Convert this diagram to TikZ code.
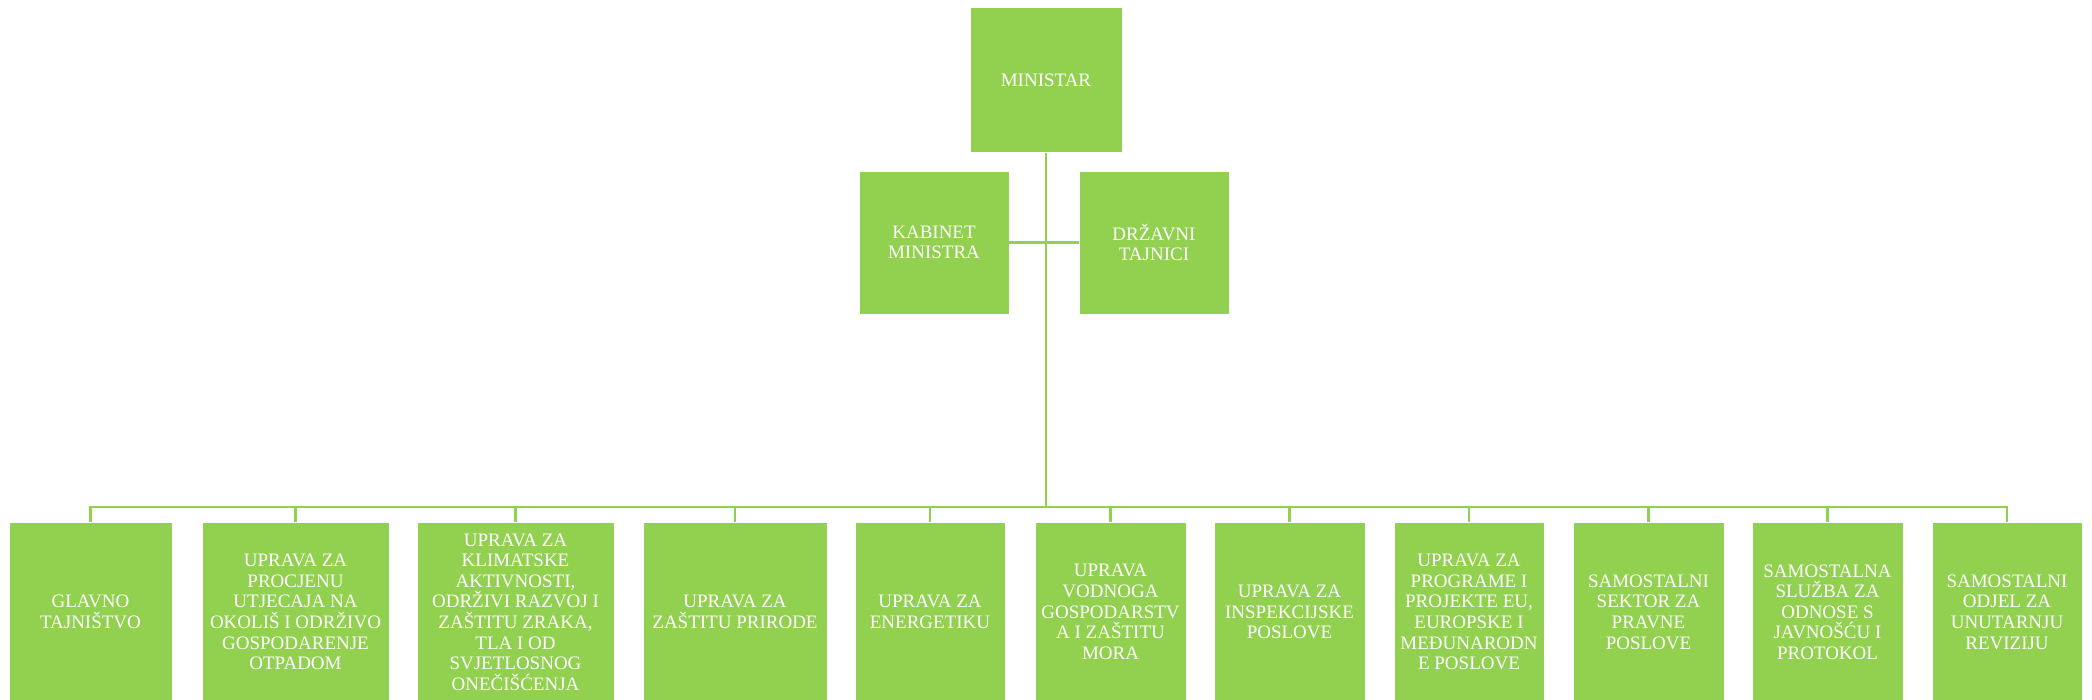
\documentclass[tikz,border=0pt]{standalone}
\usepackage{fontspec}
\setmainfont{Liberation Serif}
\usepackage{tikz}
\definecolor{orggreen}{HTML}{92D050}

\begin{document}
\begin{tikzpicture}[x=1pt, y=-1pt,
    box/.style={rectangle, fill=orggreen, draw=white, line width=0.8pt, inner sep=0pt,
      text=white, align=center, font=\fontsize{19}{20.6}\selectfont},
    link/.style={draw=orggreen, line width=2.6pt}]

    \useasboundingbox (0,0) rectangle (2092,699);

    % top level
    \node[box, minimum width=152pt, minimum height=145pt] (M) at (1046,80) {MINISTAR};
    \node[box, minimum width=150pt, minimum height=143pt] (K) at (934,242.5) {KABINET\\MINISTRA};
    \node[box, minimum width=150pt, minimum height=143pt] (D) at (1154,242.5) {DRŽAVNI\\TAJNICI};
    \coordinate (bus) at (1046,507);

    % bottom row
    \node[box, minimum width=163pt, minimum height=180pt] (U1) at (90.5,612) {GLAVNO\\TAJNIŠTVO};
    \node[box, minimum width=187pt, minimum height=180pt] (U2) at (295.5,612) {UPRAVA ZA\\PROCJENU\\UTJECAJA NA\\OKOLIŠ I ODRŽIVO\\GOSPODARENJE\\OTPADOM};
    \node[box, minimum width=197pt, minimum height=180pt] (U3) at (515.5,612) {UPRAVA ZA\\KLIMATSKE\\AKTIVNOSTI,\\ODRŽIVI RAZVOJ I\\ZAŠTITU ZRAKA,\\TLA I OD\\SVJETLOSNOG\\ONEČIŠĆENJA};
    \node[box, minimum width=184pt, minimum height=180pt] (U4) at (735,612) {UPRAVA ZA\\ZAŠTITU PRIRODE};
    \node[box, minimum width=150pt, minimum height=180pt] (U5) at (930,612) {UPRAVA ZA\\ENERGETIKU};
    \node[box, minimum width=151pt, minimum height=180pt] (U6) at (1110.5,612) {UPRAVA\\VODNOGA\\GOSPODARSTV\\A I ZAŠTITU\\MORA};
    \node[box, minimum width=151pt, minimum height=180pt] (U7) at (1289.5,612) {UPRAVA ZA\\INSPEKCIJSKE\\POSLOVE};
    \node[box, minimum width=150pt, minimum height=180pt] (U8) at (1469,612) {UPRAVA ZA\\PROGRAME I\\PROJEKTE EU,\\EUROPSKE I\\MEĐUNARODN\\E POSLOVE};
    \node[box, minimum width=151pt, minimum height=180pt] (U9) at (1648.5,612) {SAMOSTALNI\\SEKTOR ZA\\PRAVNE\\POSLOVE};
    \node[box, minimum width=151pt, minimum height=180pt] (U10) at (1827.5,612) {SAMOSTALNA\\SLUŽBA ZA\\ODNOSE S\\JAVNOŠĆU I\\PROTOKOL};
    \node[box, minimum width=150pt, minimum height=180pt] (U11) at (2007,612) {SAMOSTALNI\\ODJEL ZA\\UNUTARNJU\\REVIZIJU};

    % connectors
    \draw[link] (M.south) -- (bus);
    \draw[link] (K.east) -- (D.west);
    \draw[link] (bus) -| (U1.north);
    \draw[link] (bus) -| (U2.north);
    \draw[link] (bus) -| (U3.north);
    \draw[link] (bus) -| (U4.north);
    \draw[link] (bus) -| (U5.north);
    \draw[link] (bus) -| (U6.north);
    \draw[link] (bus) -| (U7.north);
    \draw[link] (bus) -| (U8.north);
    \draw[link] (bus) -| (U9.north);
    \draw[link] (bus) -| (U10.north);
    \draw[link] (bus) -| (U11.north);

  \end{tikzpicture}
\end{document}
